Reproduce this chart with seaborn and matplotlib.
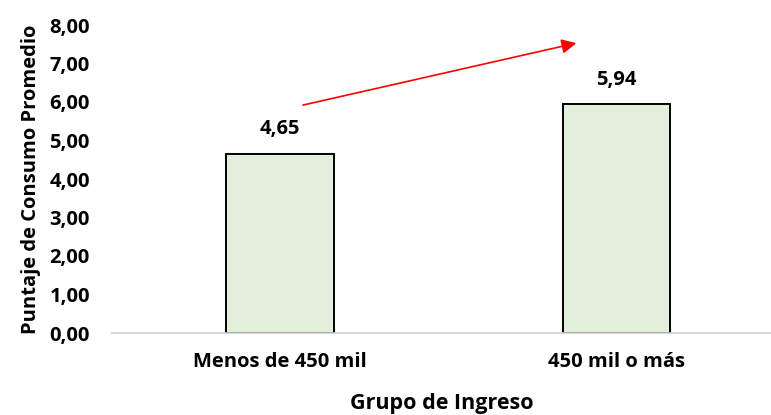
import matplotlib
matplotlib.use('Agg')
import matplotlib.pyplot as plt
import seaborn as sns
import pandas as pd
from matplotlib.ticker import FuncFormatter

# data
grupos = ['Menos de 450 mil', '450 mil o más']
puntajes = [4.65, 5.94]

df = pd.DataFrame({'Grupo de Ingreso': grupos, 'Puntaje': puntajes})

sns.set_style('white')
plt.rcParams['font.family'] = ['Open Sans', 'DejaVu Sans']
plt.rcParams['font.weight'] = 'bold'
plt.rcParams['text.color'] = 'black'
plt.rcParams['axes.labelcolor'] = 'black'
plt.rcParams['xtick.color'] = 'black'
plt.rcParams['ytick.color'] = 'black'

fig = plt.figure(figsize=(7.71, 4.15), dpi=100)
ax = fig.add_axes([112 / 771, 82 / 415, 1 - 112 / 771, 308 / 415])

sns.barplot(data=df, x='Grupo de Ingreso', y='Puntaje', color='#E2EFDA',
            edgecolor='black', linewidth=1.4, width=0.32, saturation=1, ax=ax)

# value labels
for i, v in enumerate(puntajes):
    ax.text(i, v + 0.38, f'{v:.2f}'.replace('.', ','), ha='center', va='bottom',
            fontsize=14.5, fontweight='bold')

# red trend arrow
ax.annotate('', xy=(0.881, 7.53), xytext=(0.068, 5.92),
            arrowprops=dict(arrowstyle='-|>', color='red', lw=1.2,
                            mutation_scale=22, shrinkA=0, shrinkB=0))

ax.set_ylim(0, 8)
ax.set_xlim(-0.5, 1.46)
ax.set_yticks(range(0, 9))
ax.yaxis.set_major_formatter(FuncFormatter(lambda v, p: f'{v:.2f}'.replace('.', ',')))
ax.tick_params(axis='both', length=0, labelsize=14.5)
ax.tick_params(axis='y', pad=16)
ax.tick_params(axis='x', pad=14)
for lab in ax.get_xticklabels() + ax.get_yticklabels():
    lab.set_fontweight('bold')

for s in ['top', 'right', 'left']:
    ax.spines[s].set_visible(False)
ax.spines['bottom'].set_color('#d0d0d0')
ax.spines['bottom'].set_linewidth(1.2)

ax.set_xlabel('Grupo de Ingreso', fontsize=15.5, fontweight='bold', labelpad=15)
ax.set_ylabel('Puntaje de Consumo Promedio', fontsize=14.5, fontweight='bold', labelpad=6)

fig.savefig('out.png', dpi=100)
